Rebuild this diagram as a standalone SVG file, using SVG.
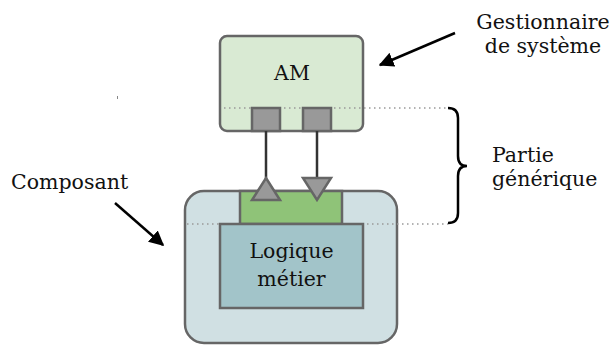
<svg xmlns="http://www.w3.org/2000/svg" width="612" height="345" viewBox="0 0 612 345">
<style>
.lbl{font-family:"DejaVu Serif","Liberation Serif",serif;font-size:20.5px;fill:#111}
.box{stroke:#666;stroke-width:2.5}
.dot{stroke:#999;stroke-width:1.5;stroke-dasharray:1.5 3.5;fill:none}
.port{fill:#999;stroke:#666;stroke-width:2.5}
.wire{stroke:#333;stroke-width:2.5;fill:none}
.ptr{stroke:#000;stroke-width:2.5;fill:none}
</style>
<defs>
<marker id="ah" viewBox="0 0 10 10" refX="9" refY="5" markerWidth="6" markerHeight="6" orient="auto" markerUnits="strokeWidth">
<path d="M0,0 L10,5 L0,10 z" fill="#000"/>
</marker>
</defs>
<rect width="612" height="345" fill="#fff"/>
<rect x="117" y="96" width="1" height="3" fill="#888"/>
<g id="am">
<rect class="box" x="220" y="36" width="143" height="95" rx="7" fill="#d9ead3"/>
<text class="lbl" x="292" y="80" text-anchor="middle">AM</text>
</g>
<line class="dot" x1="224" y1="108" x2="448" y2="108"/>
<g id="port-left"><rect class="port" x="252" y="108" width="28" height="23"/></g>
<g id="port-right"><rect class="port" x="303" y="108" width="28" height="23"/></g>
<g id="composant">
<rect class="box" x="185" y="191" width="212" height="152" rx="19" fill="#d0e0e3"/>
</g>
<line class="dot" x1="187" y1="224" x2="448" y2="224"/>
<g id="generique">
<rect class="box" x="240" y="191" width="102" height="33" fill="#8fc378"/>
</g>
<g id="logique">
<rect class="box" x="220" y="224" width="143" height="84" fill="#a2c4c9"/>
<text class="lbl" x="291.5" y="258" text-anchor="middle">Logique</text>
<text class="lbl" x="291.5" y="286" text-anchor="middle">métier</text>
</g>
<g id="connectors">
<line class="wire" x1="266" y1="131" x2="266" y2="180"/>
<line class="wire" x1="317" y1="131" x2="317" y2="178"/>
<polygon class="port" points="266,178 280,200 252,200"/>
<polygon class="port" points="303,178 331,178 317,200"/>
<line class="ptr" x1="455" y1="33" x2="380" y2="65" marker-end="url(#ah)"/>
<line class="ptr" x1="115" y1="203" x2="163" y2="245" marker-end="url(#ah)"/>
<path class="ptr" d="M448,108 Q458,108 458,118 L458,156 Q458,166 467,166 Q458,166 458,176 L458,213 Q458,223 448,223"/>
</g>
<g id="labels">
<text class="lbl" x="543" y="29" text-anchor="middle">Gestionnaire</text>
<text class="lbl" x="543" y="53" text-anchor="middle">de système</text>
<text class="lbl" x="11" y="189">Composant</text>
<text class="lbl" x="492" y="162">Partie</text>
<text class="lbl" x="492" y="186">générique</text>
</g>
</svg>
